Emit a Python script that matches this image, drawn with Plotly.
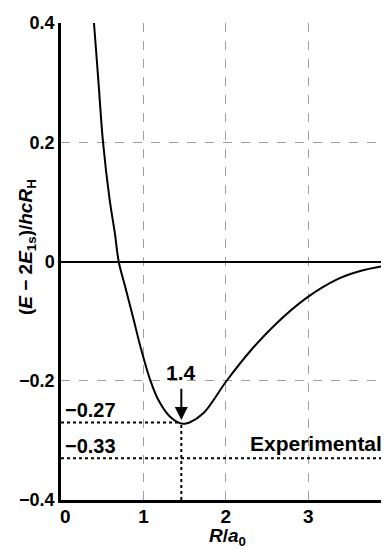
import plotly.graph_objects as go

# Potential energy curve
R_vals = [0.38, 0.40, 0.455, 0.51, 0.59, 0.653, 0.70, 0.774, 0.875, 0.968, 1.078, 1.18, 1.32,
          1.44, 1.50, 1.56, 1.73, 2.01, 2.31, 2.62, 2.98, 3.35, 3.63, 3.98]
E_vals = [0.43, 0.40, 0.30, 0.20, 0.104, 0.048, 0.0, -0.040, -0.094, -0.145, -0.197, -0.232,
          -0.260, -0.271, -0.272, -0.270, -0.254, -0.20, -0.148, -0.103, -0.061, -0.030,
          -0.016, -0.006]

R_min = 1.46
E_min = -0.27
E_exp = -0.33
min_label = "1.4"
exp_label = "Experimental"
min_value_label = "\u22120.27"
exp_value_label = "\u22120.33"

y_ticks = [-0.4, -0.2, 0, 0.2, 0.4]
y_ticktext = ["\u22120.4", "\u22120.2", "0", "0.2", "0.4"]
x_ticks = [1, 2, 3]
x_ticktext = ["1", "2", "3"]
x_origin_label = "0"

FONT = "Liberation Sans, Arial, sans-serif"

fig = go.Figure()

dot = dict(color="black", width=2, dash="dot")
fig.add_trace(go.Scatter(x=[0, R_min], y=[E_min, E_min], mode="lines", line=dot, hoverinfo="skip"))
fig.add_trace(go.Scatter(x=[R_min, R_min], y=[-0.4, E_min], mode="lines", line=dot, hoverinfo="skip"))
fig.add_trace(go.Scatter(x=[0, 4], y=[E_exp, E_exp], mode="lines", line=dot, hoverinfo="skip"))

fig.add_trace(go.Scatter(x=R_vals, y=E_vals, mode="lines",
                         line=dict(color="black", width=2, shape="spline", smoothing=1.0),
                         hoverinfo="skip"))

def tf(size):
    return dict(size=size, color="black", family=FONT, weight="bold")

anns = [
    dict(x=0.02, y=E_min, text=min_value_label, showarrow=False, xanchor="left",
         yanchor="bottom", yshift=-1, font=tf(20)),
    dict(x=0.02, y=E_exp, text=exp_value_label, showarrow=False, xanchor="left",
         yanchor="bottom", yshift=-1, font=tf(20)),
    dict(x=3.92, y=E_exp, text=exp_label, showarrow=False, xanchor="right",
         yanchor="bottom", yshift=1, font=tf(21)),
    dict(x=R_min, y=-0.206, text=min_label, showarrow=False, xanchor="center",
         yanchor="bottom", yshift=-2, font=tf(21)),
    dict(x=R_min, y=-0.266, ax=R_min, ay=-0.211, xref="x", yref="y", axref="x", ayref="y",
         text="", showarrow=True, arrowhead=2, arrowsize=1.3, arrowwidth=2, arrowcolor="black"),
    # origin label of x axis (shifted right of the origin as in the reference)
    dict(x=0.05, y=-0.4, text=x_origin_label, showarrow=False, xanchor="center",
         yanchor="top", yshift=-4, font=tf(19)),
    # axis titles
    dict(xref="paper", yref="paper", x=-0.104, y=0.53, textangle=-90, showarrow=False,
         text="(<i>E</i> \u2212 2<i>E</i><sub>1s</sub>)/<i>hcR</i><sub>H</sub>",
         xanchor="center", yanchor="middle", font=tf(19)),
    dict(xref="paper", yref="paper", x=0.509, y=-0.049, showarrow=False,
         text="<i>R</i>/<i>a</i><sub>0</sub>", xanchor="center", yanchor="top",
         font=tf(19)),
]

# The page body keeps its default 8px margin, so the figure is drawn 8px in
# from the top-left corner of the window; sizes/margins compensate for that.
fig.update_layout(
    width=381, height=541,
    margin=dict(l=53, r=0, t=15, b=49),
    paper_bgcolor="white", plot_bgcolor="white",
    showlegend=False,
    font=dict(family=FONT, size=18, color="black"),
    annotations=anns,
    xaxis=dict(range=[0, 3.98], tickvals=x_ticks, ticktext=x_ticktext, automargin=False,
               showgrid=True, gridcolor="#a0a0a0", griddash="dash", gridwidth=1,
               zeroline=False, showline=True, linecolor="black", linewidth=2.5,
               ticks="", tickfont=tf(19), ticklabelstandoff=-3),
    yaxis=dict(range=[-0.4, 0.4], tickvals=y_ticks, ticktext=y_ticktext, automargin=False,
               showgrid=True, gridcolor="#a0a0a0", griddash="dash", gridwidth=1,
               zeroline=True, zerolinecolor="black", zerolinewidth=2,
               showline=True, linecolor="black", linewidth=2.5,
               ticks="", tickfont=tf(18)),
)

fig.write_html("out.html")
